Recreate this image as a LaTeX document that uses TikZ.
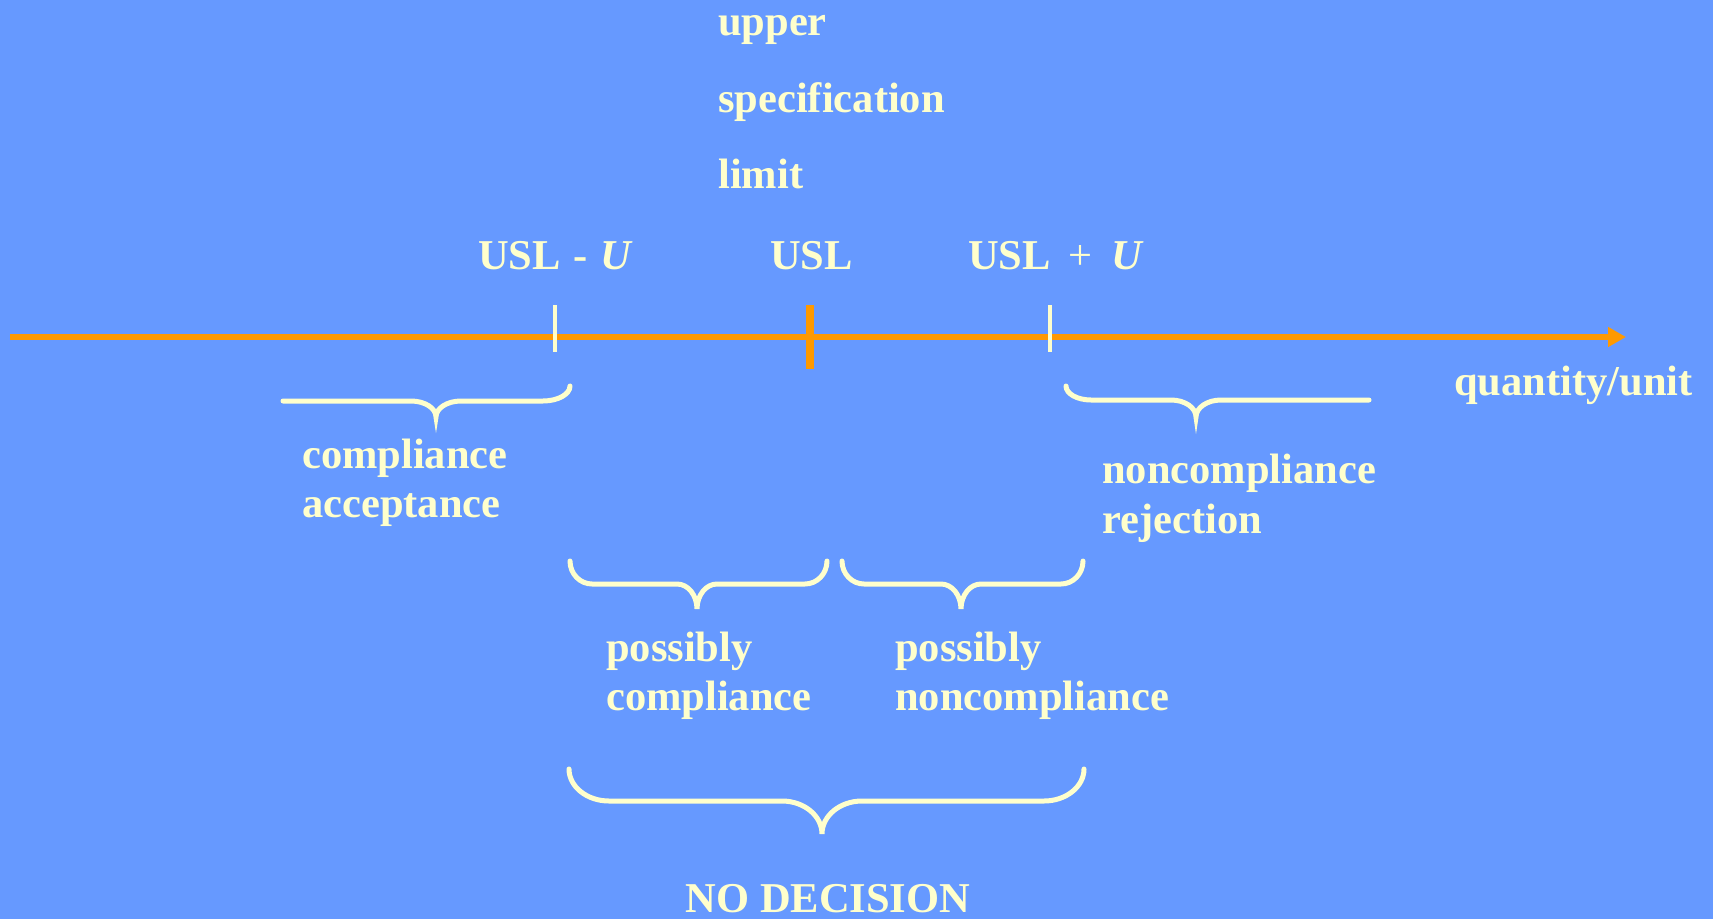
\documentclass[tikz,border=0pt]{standalone}
\usepackage{fontspec}
\setmainfont{Liberation Serif}
\usetikzlibrary{arrows.meta}
\definecolor{bgblue}{HTML}{6699FF}
\definecolor{cream}{HTML}{FFFFCC}
\definecolor{axisorange}{HTML}{FF9900}
\tikzset{
  lbl/.style={text=cream, font=\fontsize{42.5}{50}\selectfont\bfseries, inner sep=0pt, anchor=base west},
  bracestyle/.style={draw=cream, line width=5pt, line cap=round},
  axisline/.style={draw=axisorange, line width=5.5pt, -{Triangle[length=18pt,width=19pt]}},
  thintick/.style={draw=cream, line width=3.5pt},
  usltick/.style={draw=axisorange, line width=8pt}
}
% x1,x2,xt,ytL,ytR,yf,yp,rx,cw
\newcommand\mybrc[9]{%
 \pgfmathsetmacro\cA{#4+0.552*(#6-#4)}%
 \pgfmathsetmacro\cB{#1+0.448*#8}%
 \pgfmathsetmacro\hL{#1+#8}%
 \pgfmathsetmacro\cC{#3-#9}%
 \pgfmathsetmacro\cD{#3-0.448*#9}%
 \pgfmathsetmacro\cE{#7-0.552*(#7-#6)}%
 \pgfmathsetmacro\cF{#3+0.448*#9}%
 \pgfmathsetmacro\cG{#3+#9}%
 \pgfmathsetmacro\hR{#2-#8}%
 \pgfmathsetmacro\cH{#2-0.448*#8}%
 \pgfmathsetmacro\cI{#5+0.552*(#6-#5)}%
 \draw[bracestyle] (#1,#4) .. controls (#1,\cA) and (\cB,#6) .. (\hL,#6) -- (\cC,#6)
   .. controls (\cD,#6) and (#3,\cE) .. (#3,#7)
   .. controls (#3,\cE) and (\cF,#6) .. (\cG,#6) -- (\hR,#6)
   .. controls (\cH,#6) and (#2,\cI) .. (#2,#5);%
}
\begin{document}
\begin{tikzpicture}[x=1pt,y=-1pt]
\fill[bgblue] (0,0) rectangle (1713,919);
\useasboundingbox (0,0) rectangle (1713,919);

% axis
\coordinate (axstart) at (10,337);
\coordinate (axend) at (1626,337);
\draw[axisline] (axstart) -- (axend);

% ticks
\coordinate (lt1) at (555,305); \coordinate (lt2) at (555,352);
\coordinate (ut1) at (1050,305); \coordinate (ut2) at (1050,352);
\coordinate (st1) at (810,305); \coordinate (st2) at (810,369);
\draw[thintick] (lt1) -- (lt2);
\draw[thintick] (ut1) -- (ut2);
\draw[usltick] (st1) -- (st2);

% top labels
\node[lbl] (upper) at (718,35) {upper};
\node[lbl] (spec) at (718,112) {specification};
\node[lbl] (limit) at (718,188) {limit};

\node[lbl] (uslminus) at (478,269) {USL\hspace{0.3em}-\hspace{0.3em}\textit{U}};
\node[lbl] (usl) at (770,269) {USL};
\node[lbl] (uslplus) at (968,269) {USL\hspace{0.42em}{\mdseries+}\hspace{0.45em}\textit{U}};

\node[lbl] (qty) at (1454,395) {quantity/unit};

% braces
\mybrc{283}{570}{436}{401}{386}{401}{417}{27}{25}
\mybrc{1066}{1369}{1196}{386}{400}{400}{417}{25}{25}
\mybrc{570}{827}{697}{561}{561}{584}{609}{22}{20}
\mybrc{842}{1083}{961}{561}{561}{584}{609}{22}{20}
\mybrc{569}{1084}{822}{769}{769}{801}{834}{40}{40}

% brace labels
\node[lbl] (comp1) at (302,468) {compliance};
\node[lbl] (acc) at (302,517) {acceptance};
\node[lbl] (noncomp1) at (1102,483) {noncompliance};
\node[lbl] (rej) at (1102,533) {rejection};
\node[lbl] (poss1) at (606,661) {possibly};
\node[lbl] (comp2) at (606,710) {compliance};
\node[lbl] (poss2) at (895,661) {possibly};
\node[lbl] (noncomp2) at (895,710) {noncompliance};
\node[lbl, anchor=base] (nodec) at (828,912) {NO DECISION};
\end{tikzpicture}
\end{document}
